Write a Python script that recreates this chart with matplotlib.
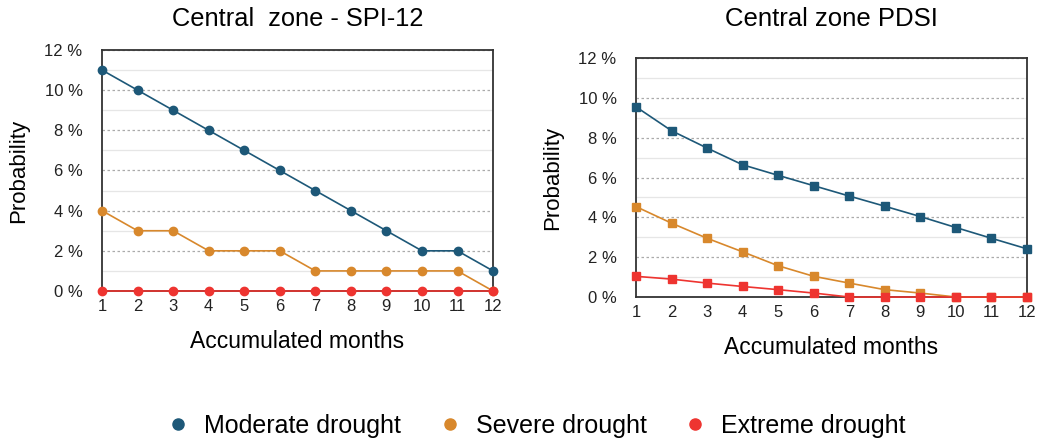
import matplotlib.pyplot as plt
from matplotlib.lines import Line2D

plt.rcParams['font.family'] = ['Liberation Sans', 'DejaVu Sans']

months = list(range(1, 13))

spi_moderate = [11, 10, 9, 8, 7, 6, 5, 4, 3, 2, 2, 1]
spi_severe = [4, 3, 3, 2, 2, 2, 1, 1, 1, 1, 1, 0]
spi_extreme = [0, 0, 0, 0, 0, 0, 0, 0, 0, 0, 0, 0]

pdsi_moderate = [9.55, 8.35, 7.48, 6.64, 6.11, 5.59, 5.07, 4.56, 4.04, 3.49, 2.95, 2.42]
pdsi_severe = [4.54, 3.71, 2.95, 2.27, 1.57, 1.04, 0.70, 0.37, 0.20, 0, 0, 0]
pdsi_extreme = [1.04, 0.90, 0.70, 0.53, 0.37, 0.20, 0, 0, 0, 0, 0, 0]

labels = ['Moderate drought', 'Severe drought', 'Extreme drought']
colors = ['#1d5878', '#d8882c', '#ee3430']
yticks = [0, 2, 4, 6, 8, 10, 12]

fig = plt.figure(figsize=(10.38, 4.44), dpi=100)
ax1 = fig.add_axes([0.0983, 0.3446, 0.3767, 0.5428])
ax2 = fig.add_axes([0.6127, 0.331, 0.3767, 0.5383])


def style(ax, title, tsize, marker, series, tpad):
    for vals, c in zip(series, colors):
        ax.plot(months, vals, color=c, lw=1.2, marker=marker, ms=6, clip_on=False, zorder=3)
    ax.set_xlim(1, 12)
    ax.set_ylim(0, 12)
    ax.set_xticks(months)
    ax.set_yticks(yticks)
    ax.set_yticklabels([f'{v} %' for v in yticks])
    ax.set_yticks([1, 3, 5, 7, 9, 11], minor=True)
    ax.tick_params(axis='both', which='both', length=0, labelsize=12, colors='#222222')
    ax.tick_params(axis='y', pad=14)
    ax.tick_params(axis='x', pad=6)
    ax.grid(axis='y', which='major', ls=(0, (2, 2)), color='#aaaaaa', lw=0.9)
    ax.grid(axis='y', which='minor', ls='-', color='#e6e6e6', lw=0.9)
    ax.set_axisbelow(True)
    for s in ax.spines.values():
        s.set_color('#333333')
        s.set_linewidth(1.3)
    ax.set_title(title, fontsize=tsize, pad=tpad)
    ax.set_xlabel('Accumulated months', fontsize=16.5, labelpad=11)
    ax.set_ylabel('Probability', fontsize=16, labelpad=11)


style(ax1, 'Central  zone - SPI-12', 18.3, 'o', [spi_moderate, spi_severe, spi_extreme], 17)
style(ax2, 'Central zone PDSI', 18.5, 's', [pdsi_moderate, pdsi_severe, pdsi_extreme], 23)

handles = [Line2D([], [], color=c, marker='o', ls='none', ms=8) for c in colors]
fig.legend(handles, labels, loc='center', bbox_to_anchor=(0.516, 0.04), ncol=3,
           frameon=False, fontsize=18, handlelength=1.0, handletextpad=0.54,
           columnspacing=1.45)

fig.savefig('out.png', dpi=100)
